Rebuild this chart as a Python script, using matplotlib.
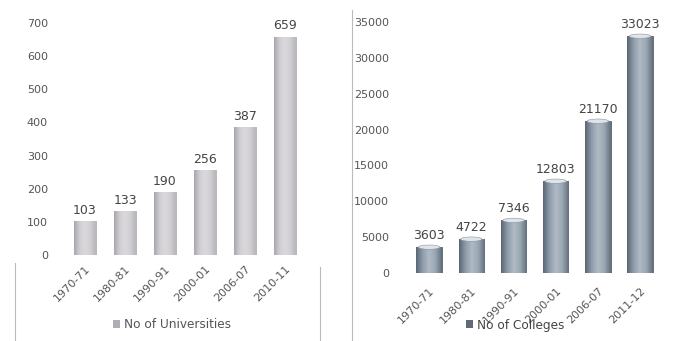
import matplotlib.pyplot as plt
import numpy as np
from matplotlib.colors import LinearSegmentedColormap
from matplotlib.lines import Line2D
from matplotlib.patches import Ellipse

uni_years = ["1970-71", "1980-81", "1990-91", "2000-01", "2006-07", "2010-11"]
uni_counts = [103, 133, 190, 256, 387, 659]

col_years = ["1970-71", "1980-81", "1990-91", "2000-01", "2006-07", "2011-12"]
col_counts = [3603, 4722, 7346, 12803, 21170, 33023]

plt.rcParams["font.family"] = ["DejaVu Sans"]
TXT = "#555555"

uni_cmap = LinearSegmentedColormap.from_list(
    "uni", ["#a9a7ae", "#cfcdd2", "#dcd9dc", "#d2cfd3", "#b9b6bc"])
col_cmap = LinearSegmentedColormap.from_list(
    "col", ["#5a6673", "#8e9cab", "#b0bac4", "#9aa7b3", "#63707d"])


def gradient_bars(ax, bars, cmap):
    grad = np.linspace(0, 1, 64).reshape(1, -1)
    for b in bars:
        x0, y0 = b.get_x(), b.get_y()
        w, h = b.get_width(), b.get_height()
        im = ax.imshow(grad, cmap=cmap, aspect="auto",
                       extent=(x0, x0 + w, y0, y0 + h), zorder=2)
        im.set_clip_path(b)
        b.set_facecolor("none")


def style_axes(ax):
    for s in ax.spines.values():
        s.set_visible(False)
    ax.tick_params(axis="both", length=0, colors=TXT, labelsize=8)


fig = plt.figure(figsize=(6.73, 3.41), dpi=100)

# universities
ax1 = fig.add_axes([55 / 673, 86 / 341, 260 / 673, 232 / 341])
x1 = np.arange(len(uni_years))
bars1 = ax1.bar(x1, uni_counts, width=0.55, edgecolor="#9c9aa0", linewidth=0.5,
                color="#c9c7cc")
gradient_bars(ax1, bars1, uni_cmap)
ax1.set_xlim(-0.75, 5.75)
ax1.set_ylim(0, 700)
ax1.set_yticks(range(0, 701, 100))
ax1.tick_params(axis="y", pad=5)
ax1.set_xticks(x1)
ax1.set_xticklabels(uni_years, rotation=45, ha="right", rotation_mode="anchor")
ax1.tick_params(axis="x", pad=6)
for xi, v in zip(x1, uni_counts):
    ax1.annotate(str(v), (xi, v), xytext=(0, 3), textcoords="offset points",
                 ha="center", va="bottom", fontsize=9, color="#444444")
style_axes(ax1)
ax1.legend(handles=[plt.Rectangle((0, 0), 1, 1, fc="#b0aeb4")],
           labels=["No of Universities"], loc="center", frameon=False,
           bbox_to_anchor=(172 / 673, 1 - 325 / 341), bbox_transform=fig.transFigure,
           handlelength=0.6, handleheight=0.6, handletextpad=0.3, fontsize=8.7,
           labelcolor=TXT)

# colleges
ax2 = fig.add_axes([400 / 673, 68 / 341, 265 / 673, 251 / 341])
x2 = np.arange(len(col_years))
bars2 = ax2.bar(x2, col_counts, width=0.6, edgecolor="#4c5560", linewidth=0.6,
                color="#8f9aa6")
gradient_bars(ax2, bars2, col_cmap)
for b in bars2:
    ax2.add_patch(Ellipse((b.get_x() + b.get_width() / 2, b.get_height()),
                          b.get_width() * 0.85, 600, fc="#dfe4e9", ec="#8a949e",
                          lw=0.4, zorder=3))
ax2.set_xlim(-0.69, 5.59)
ax2.set_ylim(0, 35000)
ax2.set_yticks(range(0, 35001, 5000))
ax2.tick_params(axis="y", pad=8)
ax2.set_xticks(x2)
ax2.set_xticklabels(col_years, rotation=45, ha="right", rotation_mode="anchor")
ax2.tick_params(axis="x", pad=9)
for xi, v in zip(x2, col_counts):
    ax2.annotate(str(v), (xi, v), xytext=(0, 4), textcoords="offset points",
                 ha="center", va="bottom", fontsize=9, color="#444444")
style_axes(ax2)
ax2.legend(handles=[plt.Rectangle((0, 0), 1, 1, fc="#5f6a76")],
           labels=["No of Colleges"], loc="center", frameon=False,
           bbox_to_anchor=(515 / 673, 1 - 325 / 341), bbox_transform=fig.transFigure,
           handlelength=0.6, handleheight=0.6, handletextpad=0.3, fontsize=8.7,
           labelcolor="#444444")

# panel borders
for xs, ys in [((15, 15), (263, 341)), ((320, 320), (267, 341)),
               ((352, 352), (10, 341))]:
    fig.add_artist(Line2D([xs[0] / 673, xs[1] / 673],
                          [1 - ys[0] / 341, 1 - ys[1] / 341],
                          color="#bbbbbb", lw=0.8))

fig.savefig("out.png", dpi=100)
